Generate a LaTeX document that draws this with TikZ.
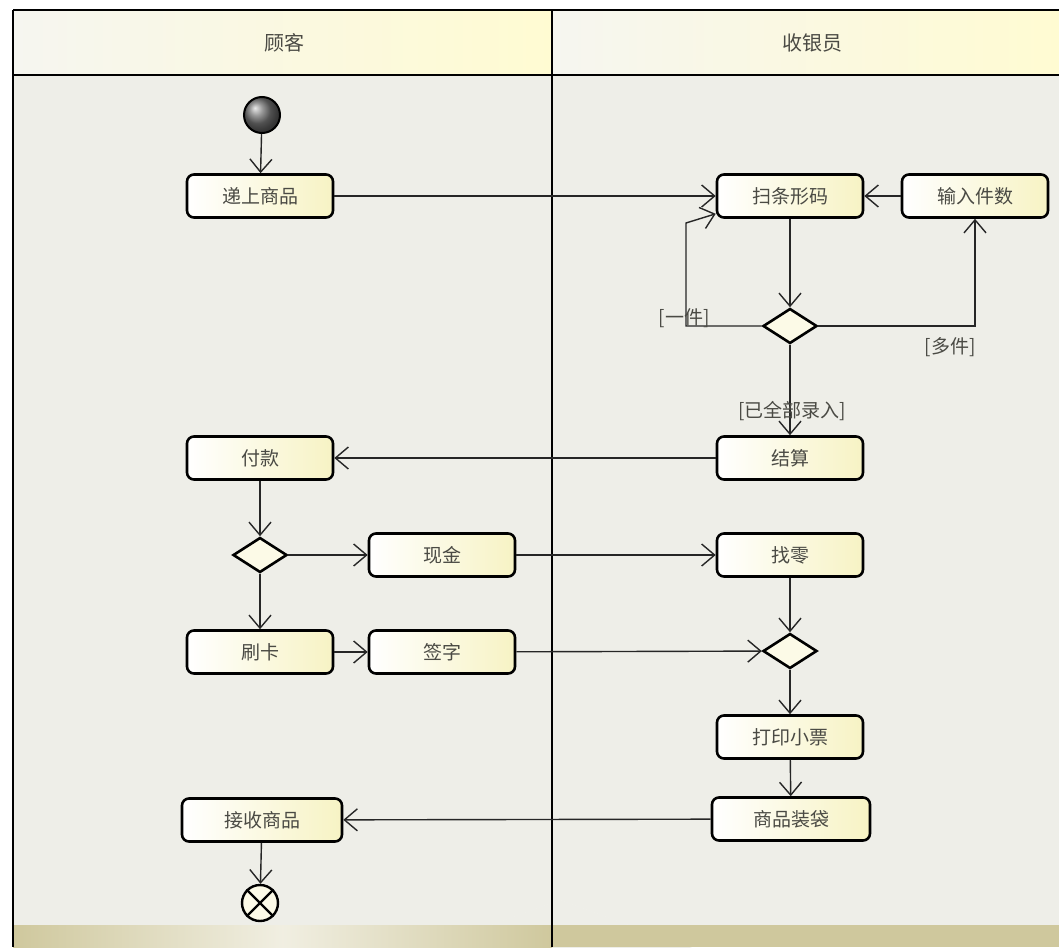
\documentclass[tikz,border=0pt]{standalone}
\usepackage{fontspec}
\newfontfamily\cjk{Noto Sans CJK SC}
\usetikzlibrary{arrows.meta,shapes.geometric,calc}
\definecolor{bg}{HTML}{EEEEE8}
\definecolor{fanlight}{HTML}{F3F3EF}
\definecolor{hdrL}{HTML}{F6F6F0}
\definecolor{hdrR}{HTML}{FFFBD2}
\definecolor{boxR}{HTML}{F7F3C4}
\definecolor{txt}{HTML}{4A4A44}
\definecolor{strip}{HTML}{CFC89D}
\begin{document}
\begin{tikzpicture}[x=1pt,y=-1pt,
  act/.style={draw=black,line width=2.6pt,rounded corners=7pt,left color=white,right color=boxR,
     minimum width=146pt,minimum height=43pt,inner sep=0pt,font=\cjk\fontsize{19}{19}\selectfont,text=txt},
  dec/.style={diamond,draw=black,line width=2.6pt,fill=white!60!boxR,minimum width=54pt,minimum height=35pt,inner sep=0pt},
  flow/.style={draw=black!85,line width=1.4pt,-{Straight Barb[length=13pt,width=22pt,line width=1.4pt]}},
  guard/.style={font=\cjk\fontsize{19}{19}\selectfont,text=txt,inner sep=1pt},
  lane/.style={font=\cjk\fontsize{20}{20}\selectfont,text=txt}
]
\useasboundingbox (0,0) rectangle (1059,947);
% background
\fill[white] (0,0) rectangle (1059,947);
\fill[bg] (13,75) rectangle (1059,925);
\fill[fanlight] (560,900) -- ++(160:620) arc[start angle=160,end angle=20,radius=620] -- cycle;
\fill[bg] (560,900) -- ++(160:330) arc[start angle=160,end angle=20,radius=330] -- cycle;
\foreach \a in {35,55,75,95,115,135,150}{
  \draw[black!5,line width=8pt] (560,900) ++(\a:330) -- ++(\a:290);
}
% header
\shade[left color=hdrL,right color=hdrR] (13,10) rectangle (552,75);
\shade[left color=hdrL,right color=hdrR] (552,10) rectangle (1059,75);
% bottom strip
\fill[strip] (13,925) rectangle (1059,947);
\shade[left color=strip,right color=strip,middle color=white!70!strip] (13,925) rectangle (552,947);
% frame
\draw[black,line width=2.6pt] (13,10) -- (1059,10);
\draw[black,line width=2.6pt] (13,75) -- (1059,75);
\draw[black,line width=2.4pt] (13,10) -- (13,947);
\draw[black,line width=2.6pt] (552,10) -- (552,947);
\node[lane] (laneA) at (284,43) {顾客};
\node[lane] (laneB) at (812,43) {收银员};

% nodes
\node[circle,draw=black,line width=2pt,ball color=black!55,minimum size=36pt,inner sep=0pt] (init) at (262,115) {};
\node[act] (hand) at (260,196) {递上商品};
\node[act] (scan) at (790,196) {扫条形码};
\node[act] (qty) at (975,196) {输入件数};
\node[dec] (d1) at (790,326) {};
\node[act] (settle) at (790,458) {结算};
\node[act] (pay) at (260,458) {付款};
\node[dec] (d2) at (260,555) {};
\node[act] (cash) at (442,555) {现金};
\node[act] (change) at (790,555) {找零};
\node[act] (card) at (260,652) {刷卡};
\node[act] (sign) at (442,652) {签字};
\node[dec] (d3) at (790,651) {};
\node[act] (print) at (790,737) {打印小票};
\node[act,minimum width=158pt] (bag) at (791,819) {商品装袋};
\node[act,minimum width=160pt] (recv) at (262,820) {接收商品};
\node[circle,draw=black,line width=2.4pt,fill=white!60!boxR,minimum size=36pt,inner sep=0pt] (final) at (260,903) {};
\draw[black,line width=2.4pt] (final.north west) -- (final.south east) (final.north east) -- (final.south west);

\coordinate (oneA) at (686,326);
\coordinate (oneB) at (686,223);
\coordinate (manyA) at (975,326);

% connectors
\draw[flow] (init) -- (hand);
\draw[flow] (hand) -- (scan);
\draw[flow] (qty) -- (scan);
\draw[flow] (scan) -- (d1);
\draw[flow] (d1.west) -- (oneA) -- (oneB) -- ($(scan.south west)+(0,-5)$);
\draw[flow] (d1.east) -- (manyA) -- (qty.south);
\draw[flow] (d1) -- (settle);
\draw[flow] (settle) -- (pay);
\draw[flow] (pay) -- (d2);
\draw[flow] (d2) -- (cash);
\draw[flow] (d2) -- (card);
\draw[flow] (card) -- (sign);
\draw[flow] (cash) -- (change);
\draw[flow] (sign) -- (d3);
\draw[flow] (change) -- (d3);
\draw[flow] (d3) -- (print);
\draw[flow] (print) -- (bag);
\draw[flow] (bag) -- (recv);
\draw[flow] (recv) -- (final);

% guards
\node[guard] (g1) at (684,318) {[一件]};
\node[guard] (g2) at (950,347) {[多件]};
\node[guard] (g3) at (792,411) {[已全部录入]};
\end{tikzpicture}
\end{document}
